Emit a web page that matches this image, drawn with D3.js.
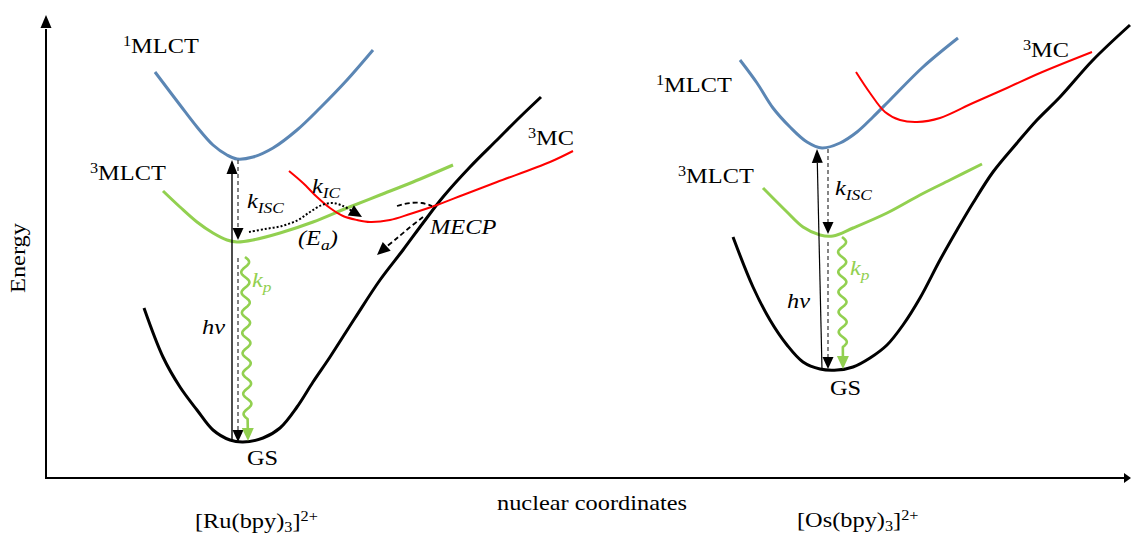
<!DOCTYPE html>
<html>
<head>
<meta charset="utf-8">
<script src="https://cdn.jsdelivr.net/npm/d3@7"></script>
<style>
  body { margin: 0; background: #fff; }
  svg { display: block; }
  text { font-family: "Liberation Serif", "Times New Roman", serif; }
</style>
</head>
<body>
<svg id="chart" width="1132" height="535"></svg>
<script>
// Potential energy curves, points are [nuclear coordinate, energy] (arbitrary units)
const ruSinglet = [[109,406],[134,373],[151,351],[167,333],[181,323],[191,319],[207,321],[227,330],[251,348],[274,370],[301,398],[327,428]];
const ruTriplet = [[117,287],[134,271],[151,256],[167,245],[181,238],[191,236],[207,238],[234,245],[267,256],[301,270],[334,283],[367,296],[407,313]];
const ruMC      = [[243,307],[257,295],[271,281],[284,270],[297,262],[311,258],[324,256],[344,258],[364,264],[391,273],[417,283],[451,296],[504,316],[527,327]];
const ruGround  = [[98,170],[117,121],[134,91],[151,68],[167,48],[184,38],[197,36],[217,40],[234,50],[251,71],[267,96],[284,121],[309,160],[334,198],[357,228],[377,255],[397,281],[424,311],[451,338],[474,361],[495,381]];

const osSinglet = [[694,418],[711,395],[727,370],[744,351],[761,336],[776,330],[794,335],[811,346],[827,361],[844,378],[877,411],[912,440]];
const osTriplet = [[717,290],[741,266],[757,251],[774,243],[787,242],[807,250],[841,265],[874,283],[904,298],[936,314]];
const osMC      = [[810,406],[824,385],[839,366],[854,358],[871,356],[894,360],[927,375],[961,390],[994,405],[1046,426]];
const osGround  = [[687,241],[707,191],[724,158],[741,133],[757,116],[774,109],[791,108],[807,111],[824,120],[841,133],[857,153],[874,180],[894,218],[911,248],[927,275],[947,306],[971,335],[991,358],[1014,381],[1047,418],[1084,453]];

// Vertical transitions: [from, to] in [coordinate, energy]
const ruAbsorb   = [[186,36],[186,318]];
const ruISC      = [[192,318],[192,238]];
const ruDecay    = [[192,220],[192,36]];
const ruPhos     = [[199,221],[202,37]];
const osAbsorb   = [[776,108],[771,329]];
const osISC      = [[782,329],[782,244]];
const osDecay    = [[782,236],[782,109]];
const osPhos     = [[796,241],[797,109]];

// Crossing paths around the 3MC state
const ruIC       = [[203,246],[219,249],[236,252],[252,258],[264,266],[276,273],[287,275],[297,272],[306,267],[316,261]];
const ruMecpIn   = [[351,272],[364,275],[376,275],[386,272]];
const ruMecpOut  = [[377,261],[363,250],[350,239],[340,231],[331,223]];

const colors = { singlet: "#5b86b4", triplet: "#92d050", mc: "#ff0000", ground: "#000000" };

const svg = d3.select("#chart");
const x = d3.scaleLinear().domain([0, 1084]).range([46, 1130]);
const y = d3.scaleLinear().domain([0, 463]).range([478, 15]);
const P = d => [x(d[0]), y(d[1])];

const smooth = d3.line().x(d => x(d[0])).y(d => y(d[1])).curve(d3.curveCatmullRom.alpha(0.5));

// ---- axes ----
const axes = svg.append("g");
function arrowHead(g, p0, p1, len, hw, color) {
  const dx = p1[0] - p0[0], dy = p1[1] - p0[1], L = Math.hypot(dx, dy);
  const ux = dx / L, uy = dy / L;
  const bx = p1[0] - ux * len, by = p1[1] - uy * len;
  g.append("path")
    .attr("d", `M${p1[0]},${p1[1]}L${bx - uy * hw},${by + ux * hw}L${bx + uy * hw},${by - ux * hw}Z`)
    .attr("fill", color);
  return [bx, by];
}
{
  const o = P([0, 0]), top = P([0, 463]), right = P([1085, 0]);
  const b1 = arrowHead(axes, o, top, 13, 5.5, "#000");
  axes.append("line").attr("x1", o[0]).attr("y1", o[1]).attr("x2", b1[0]).attr("y2", b1[1] + 1)
    .attr("stroke", "#000").attr("stroke-width", 2);
  const b2 = arrowHead(axes, o, right, 7, 5, "#000");
  axes.append("line").attr("x1", o[0] - 1).attr("y1", o[1]).attr("x2", b2[0] + 1).attr("y2", b2[1])
    .attr("stroke", "#000").attr("stroke-width", 2);
}

// ---- potential energy curves ----
const curves = [
  { d: ruGround,  c: colors.ground,  w: 3 },
  { d: ruTriplet, c: colors.triplet, w: 3 },
  { d: ruSinglet, c: colors.singlet, w: 3 },
  { d: ruMC,      c: colors.mc,      w: 2 },
  { d: osGround,  c: colors.ground,  w: 3 },
  { d: osTriplet, c: colors.triplet, w: 3 },
  { d: osSinglet, c: colors.singlet, w: 3 },
  { d: osMC,      c: colors.mc,      w: 2 }
];
svg.append("g").selectAll("path").data(curves).join("path")
  .attr("d", d => smooth(d.d))
  .attr("fill", "none")
  .attr("stroke", d => d.c)
  .attr("stroke-width", d => d.w)
  .attr("stroke-linecap", "butt");

// ---- transitions ----
const tr = svg.append("g");
function straightArrow(seg, opts) {
  const a = P(seg[0]), b = P(seg[1]);
  const base = arrowHead(tr, a, b, opts.len || 14, opts.hw || 5.5, opts.head || "#000");
  tr.append("line").attr("x1", a[0]).attr("y1", a[1]).attr("x2", base[0]).attr("y2", base[1])
    .attr("stroke", opts.color || "#000").attr("stroke-width", opts.w || 1.3)
    .attr("stroke-dasharray", opts.dash || null);
}
function wavyArrow(seg, color) {
  const a = P(seg[0]), b = P(seg[1]);
  const dx = b[0] - a[0], dy = b[1] - a[1], L = Math.hypot(dx, dy);
  const ux = dx / L, uy = dy / L, nx = -uy, ny = ux;
  const headLen = 13, tail = 9, waveLen = 20, amp = 4;
  const waveEnd = L - headLen - tail;
  const nWaves = Math.round(waveEnd / waveLen * 2) / 2;
  const wl = waveEnd / nWaves;
  const pts = [];
  for (let s = 0; s <= waveEnd; s += 0.5) {
    const off = -amp * Math.sin(2 * Math.PI * s / wl);
    pts.push([a[0] + ux * s + nx * off, a[1] + uy * s + ny * off]);
  }
  pts.push([a[0] + ux * (L - headLen), a[1] + uy * (L - headLen)]);
  tr.append("path").attr("d", d3.line()(pts)).attr("fill", "none")
    .attr("stroke", color).attr("stroke-width", 2.6).attr("stroke-linejoin", "round");
  arrowHead(tr, a, b, headLen, 6, color);
}
function curvedArrow(data, dash, withHead) {
  const pts = data.map(P);
  const body = withHead ? pts.slice(0, -1) : pts;
  tr.append("path").attr("d", d3.line().curve(d3.curveCatmullRom.alpha(0.5))(body))
    .attr("fill", "none").attr("stroke", "#000").attr("stroke-width", dash === "2,2" ? 2 : 1.8)
    .attr("stroke-dasharray", dash);
  if (withHead) arrowHead(tr, pts[pts.length - 2], pts[pts.length - 1], 13, 6, "#000");
}

straightArrow(ruAbsorb, { w: 1.4 });
straightArrow(ruISC,   { dash: "4,3", color: "#444", len: 12 });
straightArrow(ruDecay, { dash: "4,3", color: "#444", len: 12 });
wavyArrow(ruPhos, colors.triplet);
straightArrow(osAbsorb, { w: 1.2 });
straightArrow(osISC,   { dash: "4,3", color: "#444", len: 12 });
straightArrow(osDecay, { dash: "4,3", color: "#444", len: 12 });
wavyArrow(osPhos, colors.triplet);

curvedArrow(ruIC, "2,2", true);
curvedArrow(ruMecpIn, "5,3", false);
curvedArrow(ruMecpOut, "5,3", true);

// ---- labels ----
const FS = 21, SX = 1.16;
const labels = [
  { at: [77, 425],  parts: [["sup", "1"], ["n", "MLCT"]] },
  { at: [44, 298],  parts: [["sup", "3"], ["n", "MLCT"]] },
  { at: [201, 270], parts: [["i", "k"], ["isub", "ISC"]] },
  { at: [266, 285], parts: [["i", "k"], ["isub", "IC"]] },
  { at: [252, 233], parts: [["i", "(E"], ["isub", "a"], ["i", ")"]] },
  { at: [384, 244], parts: [["i", "MECP"]] },
  { at: [482, 333], parts: [["sup", "3"], ["n", "MC"]] },
  { at: [156, 144], parts: [["i", "hv"]] },
  { at: [206, 191], parts: [["i", "k"], ["isub", "p"]], color: colors.triplet },
  { at: [201, 13],  parts: [["n", "GS"]] },
  { at: [610, 386], parts: [["sup", "1"], ["n", "MLCT"]] },
  { at: [977, 421], parts: [["sup", "3"], ["n", "MC"]] },
  { at: [632, 295], parts: [["sup", "3"], ["n", "MLCT"]] },
  { at: [789, 283], parts: [["i", "k"], ["isub", "ISC"]] },
  { at: [804, 203], parts: [["i", "k"], ["isub", "p"]], color: colors.triplet },
  { at: [741, 170], parts: [["i", "hv"]] },
  { at: [784, 83],  parts: [["n", "GS"]] },
  { at: [451, -32], parts: [["n", "nuclear coordinates"]] },
  { at: [149, -50], parts: [["n", "[Ru(bpy)"], ["sub", "3"], ["n", "]"], ["sup", "2+"]] },
  { at: [751, -49], parts: [["n", "[Os(bpy)"], ["sub", "3"], ["n", "]"], ["sup", "2+"]] }
];

function drawLabel(l) {
  const p = P(l.at);
  const t = svg.append("text")
    .attr("transform", `translate(${p[0]},${p[1]}) scale(${SX},1)`)
    .attr("font-size", FS)
    .attr("fill", l.color || "#000");
  let shift = 0;
  l.parts.forEach(([kind, s]) => {
    let target = 0, size = FS, italic = false;
    if (kind === "i") italic = true;
    if (kind === "sup") { target = -7; size = 14; }
    if (kind === "sub") { target = 4; size = 14; }
    if (kind === "isub") { target = 5; size = 15; italic = true; }
    t.append("tspan").attr("dy", target - shift).attr("font-size", size)
      .attr("font-style", italic ? "italic" : "normal").text(s);
    shift = target;
  });
}
labels.forEach(drawLabel);

svg.append("text")
  .attr("transform", `translate(25,258) rotate(-90) scale(${SX},1)`)
  .attr("text-anchor", "middle").attr("font-size", FS).text("Energy");
</script>
</body>
</html>
